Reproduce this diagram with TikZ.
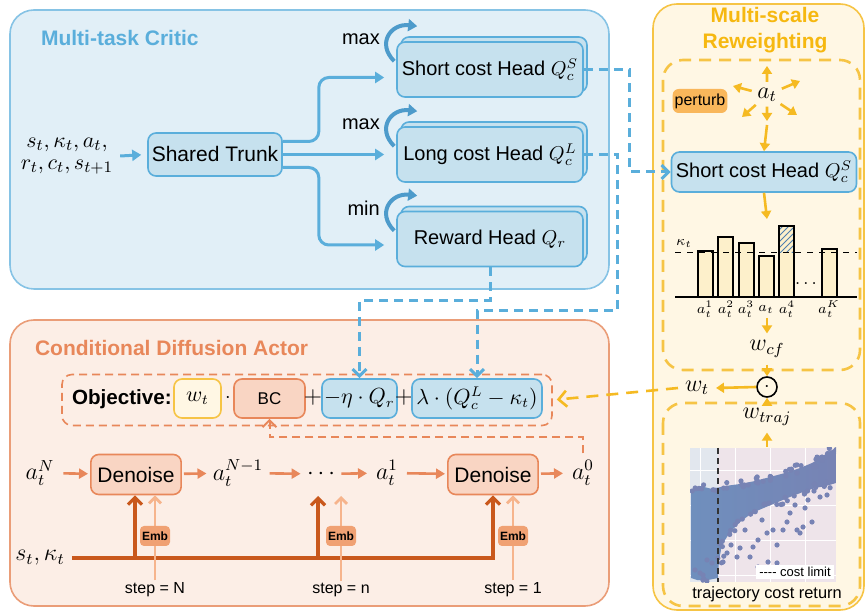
\documentclass[tikz,border=0pt]{standalone}
\usepackage{amsmath}
\usepackage{amssymb}
\usepackage{fontspec}
\setmainfont{Liberation Sans}
\usetikzlibrary{arrows.meta,calc,patterns,shadows}

\definecolor{criticfill}{HTML}{E1EFF7}
\definecolor{criticline}{HTML}{86C3E5}
\definecolor{criticblue}{HTML}{5AAEDB}
\definecolor{headfill}{HTML}{C6E1EE}
\definecolor{curlblue}{HTML}{4D9BCB}
\definecolor{actorfill}{HTML}{FCEEE6}
\definecolor{actorline}{HTML}{EA9D78}
\definecolor{actortitle}{HTML}{E8875A}
\definecolor{denfill}{HTML}{F9D5C3}
\definecolor{condline}{HTML}{C9581C}
\definecolor{stepline}{HTML}{F6B48C}
\definecolor{embfill}{HTML}{F0A173}
\definecolor{rwfill}{HTML}{FFF7E4}
\definecolor{rwline}{HTML}{F6C445}
\definecolor{rwtitle}{HTML}{F6B810}
\definecolor{rwarrow}{HTML}{F5BA22}
\definecolor{perturbfill}{HTML}{F9B75B}
\definecolor{barfill}{HTML}{FDF0CB}
\definecolor{hatchblue}{HTML}{4F7FAF}
\definecolor{scleft}{HTML}{E2E7EE}
\definecolor{scright}{HTML}{EEE4EA}
\definecolor{dotblue}{HTML}{7783B4}
\definecolor{dotleft}{HTML}{6F8FBD}

\begin{document}
\begin{tikzpicture}[x=0.5pt,y=-0.5pt,
  panel/.style={rounded corners=12pt, line width=0.8pt},
  paneltitle/.style={font=\fontsize{10.5}{13}\selectfont\bfseries},
  block/.style={draw=criticblue, fill=headfill, rounded corners=4pt, line width=0.8pt,
    font=\fontsize{10}{12}\selectfont, inner sep=1pt},
  headbox/.style={block, minimum width=93pt, minimum height=27.5pt,
    copy shadow={shadow xshift=2pt, shadow yshift=2.5pt}},
  flow/.style={criticblue, line width=1.5pt, rounded corners=5pt, shorten >=6pt,
    -{Triangle[width=5.5pt,length=4.5pt]}},
  curl/.style={curlblue, line width=2pt, -{Triangle[width=6pt,length=4.5pt]}},
  bdash/.style={criticblue, line width=1.5pt, dash pattern=on 4.5pt off 3pt,
    -{Straight Barb[width=7pt,length=3.5pt]}},
  rwbox/.style={draw=rwline, line width=1.3pt, dash pattern=on 6pt off 4pt, rounded corners=10pt},
  yarrow/.style={rwarrow, line width=1.3pt, -{Triangle[width=5pt,length=4pt]}},
  ydash/.style={rwarrow, line width=1.3pt, dash pattern=on 6pt off 4pt, shorten >=2pt,
    -{Straight Barb[width=8pt,length=4pt]}},
  mathtxt/.style={font=\fontsize{12}{12}\selectfont},
  perturb/.style={fill=perturbfill, rounded corners=3pt, font=\fontsize{8}{9}\selectfont,
    minimum width=27pt, minimum height=12pt, inner sep=1pt},
  objframe/.style={draw=actortitle, line width=0.8pt, dash pattern=on 4pt off 2.5pt,
    rounded corners=5pt, minimum width=245pt, minimum height=25.5pt},
  termbox/.style={rounded corners=4pt, line width=0.8pt, minimum height=19.5pt, inner sep=1pt,
    font=\fontsize{10.5}{12}\selectfont},
  wbox/.style={termbox, draw=rwline, fill=rwfill, minimum width=23.5pt},
  bcbox/.style={termbox, draw=actortitle, fill=denfill, minimum width=35.5pt,
    font=\fontsize{8.5}{10}\selectfont},
  lossbox/.style={termbox, draw=criticblue, fill=headfill},
  denoise/.style={draw=actortitle, fill=denfill, rounded corners=4pt, line width=0.8pt,
    minimum width=44pt, minimum height=20pt, font=\fontsize{10.5}{12}\selectfont},
  chainarrow/.style={actortitle, line width=1.3pt, shorten <=1pt, shorten >=1pt,
    -{Triangle[width=5pt,length=4.5pt]}},
  condarrow/.style={condline, line width=1.6pt, -{Straight Barb[width=7pt,length=3.5pt]}},
  steparrow/.style={stepline, line width=1.4pt, -{Straight Barb[width=6pt,length=3pt]}},
  steplab/.style={font=\fontsize{8}{9}\selectfont, inner sep=1pt},
  emb/.style={fill=embfill, rounded corners=2pt, font=\fontsize{6}{6}\selectfont\bfseries,
    minimum width=14.5pt, minimum height=10pt, inner sep=1pt},
  fbarrow/.style={actortitle, line width=1pt, dash pattern=on 4pt off 2.5pt,
    -{Straight Barb[width=7pt,length=3.5pt]}}
]
\useasboundingbox (0,0) rectangle (866,613);

% three panels
\draw[panel, draw=criticline, fill=criticfill] (10,10) rectangle (609,289);
\draw[panel, draw=actorline, fill=actorfill] (10,320) rectangle (609,606);
\draw[panel, draw=rwline, fill=rwfill] (653,4) rectangle (864,610);
\draw[rwbox] (663,60) rectangle (860,370);
\draw[rwbox] (663,403) rectangle (860,606);

%% critic
\node[paneltitle, text=criticblue, anchor=west] (crtitle) at (34,38) {Multi-task Critic};
\node[align=center, font=\fontsize{11}{11}\selectfont] (inp) at (67,156) {$s_t,\kappa_t,a_t,$\\$r_t,c_t,s_{t+1}$};
\node[block, font=\fontsize{10.5}{12}\selectfont, minimum width=67pt, minimum height=21.5pt] (trunk) at (215,154.5) {Shared Trunk};

\node[headbox] (short) at (490,69.5) {Short cost Head $Q_c^S$};
\node[headbox] (long) at (490,154.5) {Long cost Head $Q_c^L$};
\node[headbox] (rew) at (490,239) {Reward Head $Q_r$};

\foreach \h/\lab in {short/max, long/max, rew/min} {
  \node[anchor=east, font=\fontsize{10}{11}\selectfont, inner sep=1pt] (\h op) at ($(\h.north west)+(-14,-2)$) {\lab};
  \draw[curl] ($(\h.north west)+(-2,20)$) .. controls +(-18,-18) and +(-26,-3) .. ($(\h.north west)+(21,-15)$);
}

\draw[flow, shorten >=3pt] (inp.east) -- (trunk.west);
\draw[flow] ([yshift=6.5pt]trunk.east) -- ++(36,0) |- ([yshift=-4pt]short.west);
\draw[flow] (trunk.east) -- (long.west);
\draw[flow] ([yshift=-6.5pt]trunk.east) -- ++(36,0) |- ([yshift=-3pt]rew.west);

%% reweighting
\node[paneltitle, text=rwtitle, align=center] (rwtitle) at (765,30) {Multi-scale\\Reweighting};
\node[font=\fontsize{12}{12}\selectfont] (at) at (767,95) {$a_t$};
\node[perturb] (pert) at (700,101) {perturb};
\foreach \ex/\ey in {767/66, 733/86, 800/81, 742/117, 797/115, 767/121}
  \draw[yarrow] ($(at)!0.45!(\ex,\ey)$) -- (\ex,\ey);
\node[block, minimum width=92.5pt, minimum height=20pt] (rhead) at (764,172) {Short cost Head $Q_c^S$};
\coordinate (atdown) at (767,125);
\draw[yarrow] (atdown) -- (rhead.north);

% bars of the perturbed actions
\coordinate (chtop) at (767,219);
\draw[yarrow] (rhead.south) -- (chtop);
\foreach \bx/\by in {698/251, 718/237, 739/243, 759/256, 779/226, 822/249}
  \draw[line width=0.6pt, fill=barfill] (\bx,297) rectangle (\bx+15,\by);
\fill[pattern=north east lines, pattern color=hatchblue] (779,226) rectangle (794,253);
\draw[line width=0.6pt] (779,297) rectangle (794,226);
\draw[dashed, line width=0.5pt] (675,253) -- (857,253);
\draw[line width=0.7pt] (675,297) -- (857,297);
\node[font=\fontsize{7}{7}\selectfont] (kap) at (684,243) {$\kappa_t$};
\node[font=\fontsize{9}{9}\selectfont] (bdots) at (806,284) {$\ldots$};
\foreach \lx/\lt [count=\k] in {705/a_t^1, 726/a_t^2, 746/a_t^3, 766/a_t, 787/a_t^4, 829/a_t^K}
  \node[font=\fontsize{7}{7}\selectfont] (bl\k) at (\lx,309) {$\lt$};

\coordinate (chbot) at (767,318);
\node[font=\fontsize{12}{12}\selectfont] (wcf) at (767,349) {$w_{cf}$};
\draw[yarrow] (chbot) -- (wcf.north);
\node[draw, circle, line width=0.8pt, inner sep=0pt, minimum size=10pt] (odot) at (767,387) {$\cdot$};
\draw[yarrow] (wcf.south) -- (odot.north);
\node[font=\fontsize{12}{12}\selectfont] (wt) at (697,388) {$w_t$};
\draw[yarrow] (odot.west) -- (wt.east);
\node[font=\fontsize{12}{12}\selectfont] (wtraj) at (767,417) {$w_{traj}$};
\draw[yarrow] (wtraj.north) -- (odot.south);
\coordinate (sctop) at (767,447);
\draw[yarrow] (sctop) -- (wtraj.south);

% trajectory scatter
\begin{scope}
\clip (690,448) rectangle (836,582);
\fill[scleft] (690,448) rectangle (718,582);
\fill[scright] (718,448) rectangle (836,582);
\foreach \gx in {700,735,770,805}
  \draw[white, line width=0.4pt] (\gx,448) -- (\gx,582);
\foreach \gy in {470,505,540,575}
  \draw[white, line width=0.4pt] (690,\gy) -- (836,\gy);
\shade[left color=dotleft, right color=dotblue]
  (691,490) -- (700,486) -- (712,489) -- (725,486) -- (740,484) -- (755,481) -- (770,477)
  -- (785,473) -- (800,468) -- (812,463) -- (822,457) -- (828,452) -- (834,449) -- (836,452)
  -- (836,483) -- (826,486) -- (815,488) -- (803,492) -- (790,497) -- (778,502) -- (766,507)
  -- (752,513) -- (740,522) -- (730,532) -- (722,545) -- (719,560) -- (718,578) -- (708,580)
  -- (697,580) -- (691,578) -- cycle;
% fuzzy edge of the dense band
\pgfmathsetseed{11}
\foreach \px/\py in {694/490, 700/486, 712/489, 725/486, 740/484, 755/481, 770/477, 785/473,
    800/468, 812/463, 822/457, 828/452, 832/450, 826/486, 815/488, 803/492, 790/497, 778/502,
    766/507, 752/513, 740/522, 730/532, 722/545, 719/560, 705/578, 745/483, 762/479, 795/470}
  \foreach \r in {1,2,3}
    \fill[dotblue] (\px+5*rand,\py+4*rand) circle[radius=1.3pt];
\foreach \px/\py in {822/457, 827/457, 813/467, 820/497, 827/495, 805/508, 812/522, 803/527,
    790/513, 787/522, 783/530, 773/530, 777/545, 797/530, 800/533, 767/533, 758/540, 750/557,
    753/547, 740/548, 737/557, 727/553, 723/562, 707/560, 712/563, 700/573, 703/575, 695/570,
    768/562, 777/563, 758/567, 745/530, 762/520, 795/505, 808/500, 731/545}
  \fill[dotblue] (\px,\py) circle[radius=1.3pt];
\end{scope}
\draw[black!80, line width=0.7pt, dash pattern=on 3pt off 2pt] (718,448) -- (718,582);
\node[fill=white, font=\fontsize{6.5}{7}\selectfont, inner sep=1pt, minimum width=39pt] (lgd) at (795,572) {-{}-{}-{}- cost limit};
\node[font=\fontsize{8.2}{9}\selectfont] (sclab) at (767,594) {trajectory cost return};

%% actor
\node[paneltitle, text=actortitle, anchor=west] (actitle) at (28,348) {Conditional Diffusion Actor};
\node[objframe] (obj) at (307,400) {};
\node[anchor=west, font=\fontsize{10.3}{12}\selectfont\bfseries] (objlab) at (65,399) {Objective:};
\node[wbox] (wb) at (197.5,398.5) {$w_t$};
\node (dot1) at (228,398) {$\cdot$};
\node[bcbox] (bc) at (269.5,398.5) {BC};
\node[font=\fontsize{12}{12}\selectfont, inner sep=0pt] (plus1) at (313,398) {$+$};
\node[lossbox, minimum width=37.5pt] (eta) at (359.5,398.5) {$-\eta\cdot Q_r$};
\node[font=\fontsize{12}{12}\selectfont, inner sep=0pt] (plus2) at (404,398) {$+$};
\node[lossbox, minimum width=65pt] (lam) at (477,398.5) {$\lambda\cdot(Q_c^L-\kappa_t)$};

\draw[bdash] (short.east) -- ++(46,0) |- (rhead.west);
\draw[bdash] (long.east) -- ++(34,0) -- ++(0,156) -| (lam.north);
\draw[bdash] (rew.south) -- ++(0,33) -| (eta.north);
\draw[ydash] (wt.west) -- (obj.east);

% denoising chain
\node[mathtxt] (aN) at (40,473) {$a_t^N$};
\node[denoise] (den1) at (136,474.5) {Denoise};
\node[mathtxt, inner sep=2pt] (aN1) at (238,473) {$a_t^{N-1}$};
\node[mathtxt, inner sep=2pt] (dots) at (321,474) {${\cdot}\,{\cdot}\,{\cdot}$};
\node[mathtxt] (a1) at (387,473) {$a_t^1$};
\node[denoise] (den2) at (493,474.5) {Denoise};
\node[mathtxt] (a0) at (583,473) {$a_t^0$};
\foreach \u/\v in {aN/den1, den1/aN1, aN1/dots, dots/a1, a1/den2, den2/a0}
  \draw[chainarrow] (\u) -- (\v);

\coordinate (fbturn) at (583,437);
\draw[fbarrow] (a0.north) -- (fbturn) -| (bc.south);

% condition and step inputs
\node[mathtxt] (sk) at (40,558) {$s_t,\kappa_t$};
\coordinate (j1) at (135,558);
\coordinate (jm) at (318,558);
\coordinate (jmtop) at (318,496);
\draw[condarrow] (sk.east) -| (den2.south);
\draw[condarrow] (j1) -- (j1 |- den1.south);
\draw[condarrow] (jm) -- (jmtop);

\node[steplab] (stN) at (155,590) {step = N};
\node[steplab] (stn) at (341,590) {step = n};
\node[steplab] (st1) at (513,590) {step = 1};
\draw[steparrow] (stN.north) -- (stN.north |- den1.south);
\draw[steparrow] (stn.north) -- (stn.north |- jmtop);
\draw[steparrow] (st1.north) -- (st1.north |- den2.south);
\node[emb] (embN) at (155,536) {Emb};
\node[emb] (embn) at (341,536) {Emb};
\node[emb] (emb1) at (513,536) {Emb};
\end{tikzpicture}
\end{document}
